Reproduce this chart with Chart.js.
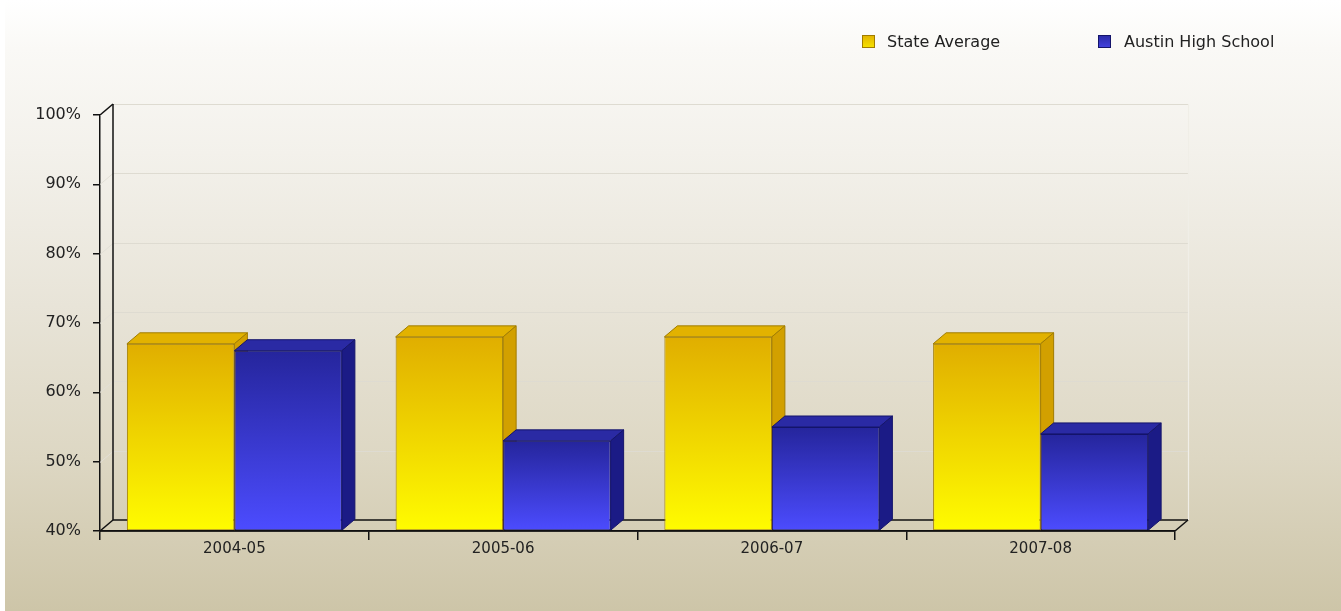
<!DOCTYPE html>
<html>
<head>
<meta charset="utf-8">
<script src="https://cdn.jsdelivr.net/npm/chart.js@4.4.1/dist/chart.umd.min.js"></script>
<style>
  html, body { margin: 0; padding: 0; background: #fff; overflow: hidden; }
  #bg {
    position: absolute; left: 5px; top: 0; width: 1336px; height: 611px;
    background: linear-gradient(to bottom, #ffffff 0%, #faf9f6 8%, #f3f1eb 25%, #e8e4d8 50%, #ddd7c3 75%, #cdc5a8 100%);
  }
  #charttest { position: absolute; left: 0; top: 0; }
</style>
</head>
<body>
<div id="bg"></div>
<canvas id="charttest" width="1341" height="611"></canvas>
<script>
const categories = ['2004-05', '2005-06', '2006-07', '2007-08'];
const seriesNames = ['State Average', 'Austin High School'];
const stateAverage = [67, 68, 68, 67];
const austinHigh = [66, 53, 55, 54];
const yTickValues = [40, 50, 60, 70, 80, 90, 100];

// depth of the fake 3d
const DX = 13, DY = -11;

const looks = [
  { top: '#e0ae00', bottom: '#fffc00', lid: '#e2b200', side: '#d2a000', line: '#a07c00' },
  { top: '#25259c', bottom: '#4c4cff', lid: '#2a2aa4', side: '#1b1b86', line: '#14146a' }
];

function barGradient(look) {
  return (c) => {
    const ch = c.chart;
    const ys = ch.scales.y;
    if (!ch.chartArea || !ys || c.raw == null) return look.bottom;
    const y0 = ys.getPixelForValue(c.raw);
    const y1 = ys.getPixelForValue(ys.min);
    const g = ch.ctx.createLinearGradient(0, y0, 0, y1);
    g.addColorStop(0, look.top);
    g.addColorStop(1, look.bottom);
    return g;
  };
}

function poly(ctx, pts, fill, stroke) {
  ctx.beginPath();
  ctx.moveTo(pts[0][0], pts[0][1]);
  for (let i = 1; i < pts.length; i++) ctx.lineTo(pts[i][0], pts[i][1]);
  ctx.closePath();
  ctx.fillStyle = fill;
  ctx.fill();
  ctx.lineWidth = 1;
  ctx.strokeStyle = stroke;
  ctx.stroke();
}

function line(ctx, x1, y1, x2, y2, color, w) {
  ctx.beginPath();
  ctx.moveTo(x1, y1);
  ctx.lineTo(x2, y2);
  ctx.strokeStyle = color;
  ctx.lineWidth = w || 1;
  ctx.stroke();
}

const box3d = {
  id: 'box3d',
  beforeDatasetsDraw(chart) {
    const ctx = chart.ctx;
    const a = chart.chartArea;
    const ys = chart.scales.y;
    ctx.save();
    // back wall grid
    yTickValues.forEach(v => {
      const y = Math.round(ys.getPixelForValue(v)) + 0.5;
      if (v !== ys.min) {
        line(ctx, a.left + DX, y + DY, a.right + DX, y + DY, '#dedbd1', 1.2);
        line(ctx, a.left, y, a.left + DX, y + DY, '#e2dfd6', 1);
      }
    });
    line(ctx, a.right + DX + 0.5, a.top + DY, a.right + DX + 0.5, a.bottom + DY, '#f0eee7', 1.2);
    // left wall and floor
    line(ctx, a.left + DX, a.top + DY, a.left + DX, a.bottom + DY, '#111', 1.5);
    line(ctx, a.left, a.top, a.left + DX, a.top + DY, '#111', 1.5);
    line(ctx, a.left, a.bottom, a.left + DX, a.bottom + DY, '#111', 1.5);
    line(ctx, a.left + DX, a.bottom + DY, a.right + DX, a.bottom + DY, '#111', 1.5);
    line(ctx, a.right, a.bottom, a.right + DX, a.bottom + DY, '#111', 1.5);

    // boxes, left to right so each front hides the neighbour's side
    const metas = chart.data.datasets.map((d, i) => chart.getDatasetMeta(i));
    for (let j = 0; j < categories.length; j++) {
      metas.forEach((meta, i) => {
        const el = meta.data[j];
        const p = el.getProps(['x', 'y', 'base', 'width'], true);
        const l = p.x - p.width / 2, r = p.x + p.width / 2;
        const lk = looks[i];
        el.draw(ctx, a);
        poly(ctx, [[l, p.y], [l + DX, p.y + DY], [r + DX, p.y + DY], [r, p.y]], lk.lid, lk.line);
        poly(ctx, [[r, p.y], [r + DX, p.y + DY], [r + DX, p.base + DY], [r, p.base]], lk.side, lk.line);
      });
    }
    // front floor edge on top of the bar bottoms
    line(ctx, a.left, a.bottom, a.right, a.bottom, '#111', 1.5);
    ctx.restore();
    return false;
  },
  afterDraw(chart) {
    // legend
    const ctx = chart.ctx;
    const spots = [[862, 887], [1098, 1124]];
    ctx.save();
    ctx.font = '16px "DejaVu Sans"';
    ctx.textBaseline = 'middle';
    seriesNames.forEach((name, i) => {
      const lk = looks[i];
      const bx = spots[i][0], by = 35;
      const g = ctx.createLinearGradient(0, by, 0, by + 13);
      g.addColorStop(0, lk.lid);
      g.addColorStop(1, i === 0 ? '#f7e400' : '#4242e0');
      ctx.fillStyle = g;
      ctx.fillRect(bx, by, 13, 13);
      ctx.strokeStyle = lk.line;
      ctx.lineWidth = 1;
      ctx.strokeRect(bx + 0.5, by + 0.5, 12, 12);
      ctx.fillStyle = '#222';
      ctx.fillText(name, spots[i][1], by + 8);
    });
    ctx.restore();
  }
};

const ctx1 = document.getElementById('charttest');
new Chart(ctx1, {
  type: 'bar',
  data: {
    labels: categories,
    datasets: [{
      label: seriesNames[0],
      data: stateAverage,
      base: 40,
      backgroundColor: barGradient(looks[0]),
      borderColor: looks[0].line,
      borderWidth: 1,
      borderSkipped: false
    }, {
      label: seriesNames[1],
      data: austinHigh,
      base: 40,
      backgroundColor: barGradient(looks[1]),
      borderColor: looks[1].line,
      borderWidth: 1,
      borderSkipped: false
    }]
  },
  plugins: [box3d],
  options: {
    responsive: false,
    animation: false,
    devicePixelRatio: 1,
    categoryPercentage: 0.8,
    barPercentage: 1.0,
    layout: { padding: { top: 115, right: 166, left: 0, bottom: 0 } },
    plugins: {
      legend: { display: false },
      tooltip: { enabled: false }
    },
    scales: {
      x: {
        afterFit: s => { s.height = 80; },
        grid: { drawOnChartArea: false, drawTicks: true, tickLength: 9, color: '#111', lineWidth: 1.5 },
        border: { display: true, color: '#111', width: 1.5 },
        ticks: { color: '#222', padding: 0, font: { family: 'DejaVu Sans', size: 15 } }
      },
      y: {
        min: 40,
        max: 100,
        afterFit: s => { s.width = 100; },
        afterBuildTicks: s => { s.ticks = yTickValues.map(v => ({ value: v })); },
        grid: { drawOnChartArea: false, drawTicks: true, tickLength: 7, color: '#111', lineWidth: 1.5 },
        border: { display: true, color: '#111', width: 1.5 },
        ticks: {
          color: '#222',
          padding: 12,
          font: { family: 'DejaVu Sans', size: 16 },
          callback: v => v + '%'
        }
      }
    }
  }
});
</script>
</body>
</html>
